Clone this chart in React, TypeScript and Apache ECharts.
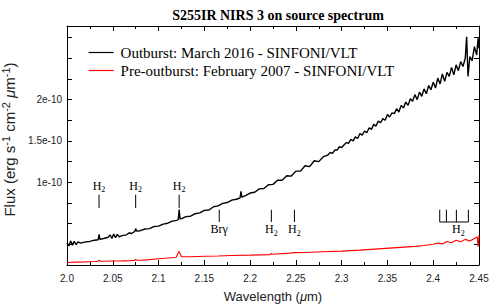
import React, { useEffect, useRef } from 'react';
import * as echarts from 'echarts';

const titleText = 'S255IR NIRS 3 on source spectrum';
const seriesNames = ['Outburst: March 2016 - SINFONI/VLT', 'Pre-outburst: February 2007 - SINFONI/VLT'];
const yLabelValues = [1, 1.5, 2]; // in units of 1e-10

// [wavelength (um), flux (1e-10 erg s-1 cm-2 um-1)]
const outburst: [number, number][] = [
  [2.000, 0.27], [2.002, 0.23], [2.004, 0.29], [2.006, 0.24], [2.008, 0.285], [2.010, 0.245], [2.012, 0.28],
  [2.015, 0.265], [2.020, 0.28], [2.025, 0.285], [2.030, 0.30], [2.034, 0.305], [2.035, 0.37], [2.036, 0.31],
  [2.040, 0.32], [2.045, 0.335], [2.047, 0.365], [2.049, 0.32], [2.051, 0.375], [2.053, 0.33], [2.055, 0.37],
  [2.057, 0.34], [2.060, 0.355], [2.065, 0.365], [2.068, 0.39], [2.070, 0.38], [2.074, 0.405], [2.075, 0.44],
  [2.076, 0.41], [2.080, 0.415], [2.085, 0.435], [2.090, 0.44], [2.095, 0.465], [2.100, 0.47], [2.105, 0.495],
  [2.110, 0.505], [2.115, 0.53], [2.120, 0.54], [2.1215, 0.55], [2.1225, 0.67], [2.1235, 0.555], [2.125, 0.56],
  [2.130, 0.585], [2.135, 0.59], [2.140, 0.62], [2.145, 0.63], [2.150, 0.66], [2.155, 0.665], [2.160, 0.705],
  [2.165, 0.715], [2.170, 0.745], [2.175, 0.755], [2.180, 0.785], [2.185, 0.795], [2.189, 0.81], [2.190, 0.89],
  [2.191, 0.82], [2.195, 0.84], [2.200, 0.87], [2.205, 0.88], [2.210, 0.92], [2.215, 0.925], [2.220, 0.97],
  [2.225, 0.975], [2.230, 1.025], [2.235, 1.025], [2.240, 1.08], [2.245, 1.075], [2.250, 1.135], [2.255, 1.135],
  [2.260, 1.20], [2.265, 1.19], [2.270, 1.26], [2.275, 1.25], [2.2800, 1.31], [2.2825, 1.32], [2.2850, 1.33],
  [2.2875, 1.36], [2.2900, 1.35], [2.2925, 1.39], [2.2950, 1.39], [2.2975, 1.43], [2.3000, 1.42], [2.3025, 1.45],
  [2.3050, 1.48], [2.3075, 1.47], [2.3100, 1.52], [2.3125, 1.50], [2.3150, 1.55], [2.3175, 1.53], [2.3200, 1.59],
  [2.3225, 1.57], [2.3250, 1.62], [2.3275, 1.60], [2.3300, 1.66], [2.3325, 1.64], [2.3350, 1.70], [2.3375, 1.68],
  [2.3400, 1.74], [2.3425, 1.72], [2.3450, 1.77], [2.3475, 1.75], [2.3500, 1.82], [2.3525, 1.79], [2.3550, 1.84],
  [2.3575, 1.83], [2.3600, 1.89], [2.3625, 1.85], [2.3650, 1.93], [2.3675, 1.90], [2.3700, 1.97], [2.3725, 1.93],
  [2.3750, 2.01], [2.3775, 1.98], [2.3800, 2.06], [2.3825, 2.00], [2.3850, 2.09], [2.3875, 2.04], [2.3900, 2.13],
  [2.3925, 2.07], [2.3950, 2.17], [2.3975, 2.12], [2.4000, 2.21], [2.4025, 2.14], [2.4050, 2.26], [2.4075, 2.19],
  [2.4100, 2.31], [2.4125, 2.22], [2.4150, 2.33], [2.4175, 2.28], [2.4200, 2.39], [2.4225, 2.30], [2.4250, 2.42],
  [2.4275, 2.35], [2.4300, 2.46], [2.4325, 2.40], [2.4350, 2.50], [2.4365, 2.76], [2.4380, 2.28], [2.4400, 2.52],
  [2.4425, 2.47], [2.4450, 2.64], [2.4475, 2.54], [2.4490, 2.74], [2.4500, 2.62],
];

const preOutburst: [number, number][] = [
  [2.000, 0.03], [2.010, 0.035], [2.020, 0.038], [2.030, 0.042], [2.034, 0.045], [2.035, 0.06], [2.036, 0.046],
  [2.040, 0.045], [2.050, 0.048], [2.060, 0.05], [2.070, 0.053], [2.074, 0.055], [2.075, 0.068], [2.076, 0.058],
  [2.080, 0.058], [2.090, 0.065], [2.100, 0.075], [2.110, 0.085], [2.119, 0.09], [2.1225, 0.165], [2.125, 0.10],
  [2.135, 0.10], [2.150, 0.105], [2.165, 0.108], [2.180, 0.115], [2.200, 0.12], [2.222, 0.126], [2.223, 0.14],
  [2.224, 0.13], [2.240, 0.14], [2.248, 0.15], [2.260, 0.152], [2.280, 0.16], [2.300, 0.168], [2.320, 0.18],
  [2.340, 0.195], [2.360, 0.21], [2.380, 0.225], [2.390, 0.235], [2.400, 0.25], [2.405, 0.265], [2.410, 0.255],
  [2.415, 0.285], [2.420, 0.27], [2.425, 0.30], [2.430, 0.28], [2.435, 0.31], [2.440, 0.29], [2.445, 0.32],
  [2.448, 0.34], [2.449, 0.22], [2.450, 0.36],
];

// spectral line identifications
const lineWave = [2.035, 2.075, 2.1225, 2.1663, 2.2232, 2.2484];
const lineLabel = ['H2', 'H2', 'H2', 'Brγ', 'H2', 'H2'];
const lineRow = [0, 0, 0, 1, 1, 1];
const groupWave = [2.4071, 2.4144, 2.4253, 2.4384];
const groupLabelWave = [2.4275];

// annotation heights in flux units: [tickTop, tickBottom, label]
const rowLevels = [
  [0.85, 0.69, 0.96],
  [0.668, 0.52, 0.43],
];

const serif = 'Liberation Serif';
const sans = 'Liberation Sans';

const annotRich = {
  n: { fontFamily: serif, fontSize: 12, fill: '#000' },
  s: { fontFamily: serif, fontSize: 8, fill: '#000', padding: [8, 0, 0, 0] },
};
const labelText = (l: string) => (l === 'H2' ? '{n|H}{s|2}' : '{n|Brγ}');

export default function App() {
  const ref = useRef<HTMLDivElement>(null);
  useEffect(() => {
    if (!ref.current) return;
    const chart = echarts.init(ref.current, null, { renderer: 'svg' });
    const axisCommon = {
      type: 'value' as const,
      axisLine: { show: true, onZero: false, lineStyle: { color: '#000', width: 1 } },
      splitLine: { show: false },
    };
    chart.setOption({
      animation: false,
      backgroundColor: '#fff',
      title: {
        text: titleText,
        left: 273,
        top: 3,
        textAlign: 'center',
        textStyle: { fontFamily: serif, fontWeight: 'bold', fontSize: 14, color: '#000' },
      },
      legend: {
        data: seriesNames,
        orient: 'vertical',
        left: 83,
        top: 40,
        itemWidth: 25,
        itemHeight: 14,
        itemGap: 3,
        itemStyle: { opacity: 0 },
        lineStyle: { width: 1.2 },
        textStyle: { fontFamily: serif, fontSize: 15, color: '#000', padding: [0, 0, 0, 2] },
      },
      grid: { left: 67, right: 11, top: 26, bottom: 41, containLabel: false, outerBoundsMode: 'none' },
      xAxis: [
        {
          ...axisCommon,
          min: 2.0,
          max: 2.45,
          interval: 0.05,
          name: '{a|Wavelength (}{mu|μ}{a|m)}',
          nameLocation: 'middle',
          nameGap: 25,
          nameTextStyle: {
            rich: {
              a: { fontFamily: sans, fontSize: 13, color: '#222' },
              mu: { fontFamily: sans, fontSize: 13, fontStyle: 'italic', color: '#222' },
            },
          },
          axisTick: { show: true, inside: true, length: 5, lineStyle: { color: '#000' } },
          minorTick: { show: true, splitNumber: 2, length: 3, lineStyle: { color: '#000' } },
          axisLabel: {
            fontFamily: sans,
            fontSize: 10,
            color: '#222',
            margin: 8,
            formatter: (v: number) => (Math.abs(v - 2) < 1e-9 ? '2.0' : String(+v.toFixed(2))),
          },
        },
        {
          ...axisCommon,
          position: 'top',
          min: 2.0,
          max: 2.45,
          interval: 0.05,
          axisTick: { show: true, inside: true, length: 5, lineStyle: { color: '#000' } },
          minorTick: { show: true, splitNumber: 2, length: 3, lineStyle: { color: '#000' } },
          axisLabel: { show: false },
        },
      ],
      yAxis: [
        {
          ...axisCommon,
          min: 0,
          max: 2.89,
          interval: 0.25,
          name: '{a|Flux (erg s}{sup|-1}{a| cm}{sup|-2}{mu| μ}{a|m}{sup|-1}{a|)}',
          nameLocation: 'middle',
          nameRotate: 90,
          nameGap: 47,
          nameTextStyle: {
            padding: [0, 0, 0, 12],
            rich: {
              a: { fontFamily: sans, fontSize: 15, color: '#222' },
              mu: { fontFamily: sans, fontSize: 15, fontStyle: 'italic', color: '#222' },
              sup: { fontFamily: sans, fontSize: 11, color: '#222', padding: [0, 0, 8, 0] },
            },
          },
          axisTick: { show: true, inside: true, length: 5, lineStyle: { color: '#000' } },
          axisLabel: {
            fontFamily: sans,
            fontSize: 10,
            color: '#222',
            margin: 5,
            formatter: (v: number) =>
              yLabelValues.some((y) => Math.abs(y - v) < 1e-9) ? `${+v.toFixed(2)}e-10` : '',
          },
        },
        {
          ...axisCommon,
          position: 'right',
          min: 0,
          max: 2.89,
          interval: 0.25,
          axisTick: { show: true, inside: true, length: 5, lineStyle: { color: '#000' } },
          axisLabel: { show: false },
        },
      ],
      series: [
        {
          name: seriesNames[0],
          type: 'line',
          data: outburst,
          symbol: 'none',
          lineStyle: { color: '#000', width: 1.4 },
          itemStyle: { color: '#000' },
          z: 3,
        },
        {
          name: seriesNames[1],
          type: 'line',
          data: preOutburst,
          symbol: 'none',
          lineStyle: { color: '#f00', width: 1.1 },
          itemStyle: { color: '#f00' },
          z: 2,
        },
        {
          type: 'custom',
          data: lineWave.map((w, i) => [w, i]),
          silent: true,
          z: 4,
          renderItem: (_params: any, api: any) => {
            const w = api.value(0);
            const i = api.value(1);
            const lv = rowLevels[lineRow[i]];
            const pT = api.coord([w, lv[0]]);
            const pB = api.coord([w, lv[1]]);
            const pL = api.coord([w, lv[2]]);
            return {
              type: 'group',
              children: [
                {
                  type: 'line',
                  shape: { x1: pT[0], y1: pT[1], x2: pB[0], y2: pB[1] },
                  style: { stroke: '#000', lineWidth: 1 },
                },
                {
                  type: 'text',
                  x: pL[0],
                  y: pL[1],
                  style: {
                    text: labelText(lineLabel[i]),
                    rich: annotRich,
                    align: 'center',
                    verticalAlign: 'middle',
                  },
                },
              ],
            };
          },
        },
        {
          type: 'custom',
          data: groupLabelWave.map((w) => [w, 0]),
          silent: true,
          z: 4,
          renderItem: (_params: any, api: any) => {
            const lv = rowLevels[1];
            const children: any[] = groupWave.map((w) => {
              const pT = api.coord([w, lv[0]]);
              const pB = api.coord([w, lv[1]]);
              return {
                type: 'line',
                shape: { x1: pT[0], y1: pT[1], x2: pB[0], y2: pB[1] },
                style: { stroke: '#000', lineWidth: 1 },
              };
            });
            const pA = api.coord([groupWave[0], lv[1]]);
            const pZ = api.coord([groupWave[groupWave.length - 1], lv[1]]);
            children.push({
              type: 'line',
              shape: { x1: pA[0], y1: pA[1], x2: pZ[0], y2: pZ[1] },
              style: { stroke: '#000', lineWidth: 1 },
            });
            const pL = api.coord([api.value(0), lv[2]]);
            children.push({
              type: 'text',
              x: pL[0],
              y: pL[1],
              style: { text: labelText('H2'), rich: annotRich, align: 'center', verticalAlign: 'middle' },
            });
            return { type: 'group', children };
          },
        },
      ],
    });
    return () => chart.dispose();
  }, []);
  return <div ref={ref} style={{ position: 'absolute', left: 0, top: 0, width: 490, height: 306 }} />;
}
